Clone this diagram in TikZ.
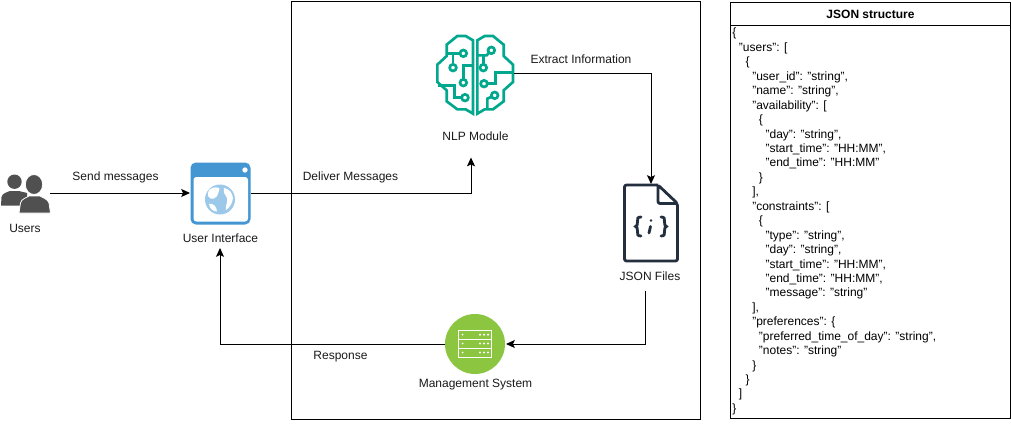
\documentclass[tikz,border=0pt]{standalone}
\usepackage{fontspec}
\setmainfont{Liberation Sans}
\usetikzlibrary{arrows.meta}
\definecolor{brain}{HTML}{01A88D}
\definecolor{uiblue}{HTML}{4496D2}
\definecolor{globeblue}{HTML}{9CC9EA}
\definecolor{filedark}{HTML}{232F3E}
\definecolor{mgreen}{HTML}{8CC540}
\definecolor{usergrey}{HTML}{505050}
\definecolor{labelgrey}{HTML}{1A1A1A}
\newcommand{\jl}[2]{\hspace*{#1\dimexpr 2.5pt\relax}#2\\}
\tikzset{
  x=0.75pt,y=-0.75pt,
  lbl/.style={font=\fontsize{9pt}{10.8pt}\selectfont,text=labelgrey,inner sep=0pt},
  conn/.style={draw=black,line width=0.75pt,-{Stealth[length=6.6pt,width=6pt,inset=1.4pt]}},
  brainline/.style={draw=brain,line width=2pt,line join=miter},
  frame/.style={draw=black,line width=0.75pt,fill=none},
}
\begin{document}
\begin{tikzpicture}
\useasboundingbox (0,0) rectangle (1011,439);
\fill[white] (0,0) rectangle (1011,439);
% frames
\draw[frame] (291,1) rectangle (700,419);
\draw[frame] (730.5,2) rectangle (1010.5,418);
\draw[frame] (730.5,25) -- (1010.5,25);
\node[lbl,font=\fontsize{9pt}{10.8pt}\selectfont\bfseries,text=black] (title) at (870.5,14) {JSON structure};
\node[lbl,anchor=north west,align=left,text=black,font=\fontsize{9pt}{10.83pt}\selectfont] (jsontext) at (732,28) {%
\jl{0}{\{}
\jl{2}{"users": [}
\jl{4}{\{}
\jl{6}{"user\_id": "string",}
\jl{6}{"name": "string",}
\jl{6}{"availability": [}
\jl{8}{\{}
\jl{10}{"day": "string",}
\jl{10}{"start\_time": "HH:MM",}
\jl{10}{"end\_time": "HH:MM"}
\jl{8}{\}}
\jl{6}{],}
\jl{6}{"constraints": [}
\jl{8}{\{}
\jl{10}{"type": "string",}
\jl{10}{"day": "string",}
\jl{10}{"start\_time": "HH:MM",}
\jl{10}{"end\_time": "HH:MM",}
\jl{10}{"message": "string"}
\jl{6}{],}
\jl{6}{"preferences": \{}
\jl{8}{"preferred\_time\_of\_day": "string",}
\jl{8}{"notes": "string"}
\jl{6}{\}}
\jl{4}{\}}
\jl{2}{]}
\jl{0}{\}}%
};
% labels
\node[lbl] (lusers) at (25,228.5) {Users};
\node[lbl] (lsend) at (115.5,177) {Send messages};
\node[lbl] (lui) at (220.5,238.5) {User Interface};
\node[lbl] (ldeliver) at (350.5,177) {Deliver Messages};
\node[lbl] (lnlp) at (475.5,136.5) {NLP Module};
\node[lbl] (lextract) at (581,59) {Extract Information};
\node[lbl] (ljson) at (650,276.5) {JSON Files};
\node[lbl] (lmgmt) at (475.5,384.5) {Management System};
\node[lbl] (lresp) at (340.5,357) {Response};
% users icon
\fill[usergrey] (14.5,181.7) circle (7.2);
\fill[usergrey] (1,205.5) -- (1.5,197) .. controls (2,193) and (8,192) .. (10,191) -- (19,191) .. controls (22,192) and (26,192.5) .. (27,193) -- (27,205.5) -- cycle;
\fill[usergrey,draw=white,line width=0.6pt] (19,213) -- (20.5,203) .. controls (21,199) and (27,197.5) .. (29,196) -- (40,196) .. controls (42,197.5) and (48,199) .. (49,203) -- (50.5,213) -- cycle;
\fill[usergrey,draw=white,line width=0.6pt] (34,184.5) ellipse (8.7 and 10);
% UI icon
\fill[uiblue,rounded corners=4pt] (190.5,162.5) rectangle (250.5,224.5);
\fill[white,rounded corners=2.2pt] (193.5,177) rectangle (248,221.5);
\fill[white] (245,170) circle (2.7);
\fill[globeblue] (220,199.5) circle (15);
\fill[white] (209,190) .. controls (213,186.5) and (218,187) .. (219.5,188.5) .. controls (218,192) and (219,196) .. (214,198.5) .. controls (209,200) and (206,195) .. (209,190) -- cycle;
\fill[white] (224,188) .. controls (229,188.5) and (232.5,193) .. (233,198) .. controls (232.5,204) and (229,208) .. (226,210) .. controls (225,205) and (228,203) .. (227,198) .. controls (225,195) and (223,192) .. (224,188) -- cycle;
\fill[white] (209,204) .. controls (213,202.5) and (217,207) .. (217,211.5) .. controls (213,211.5) and (209.5,208.5) .. (209,204) -- cycle;
% brain icon
\begin{scope}[shift={(434,32)},x=0.25pt,y=-0.25pt]
\draw[brainline] (117,25) -- (95,12) -- (70,12) -- (38,38) -- (38,72) -- (10,98) -- (10,150) -- (38,175) -- (38,208) -- (70,232) -- (95,232) -- (117,245) -- cycle;
\draw[brainline] (130,25) -- (152,12) -- (177,12) -- (209,38) -- (209,72) -- (237,98) -- (237,150) -- (209,175) -- (209,208) -- (177,232) -- (152,232) -- (130,245) -- cycle;
\draw[brainline] (78,64) -- (38,64);
\draw[brainline] (88,64) circle (10);
\draw[brainline] (57,97) -- (57,64);
\draw[brainline] (57,107) circle (10);
\draw[brainline] (88,142) -- (88,100) -- (117,100);
\draw[brainline] (88,152) circle (10);
\draw[brainline] (83,197) -- (62,197) -- (62,160) -- (12,160);
\draw[brainline] (93,197) circle (10);
\draw[brainline] (165,62) -- (158,70) -- (130,70);
\draw[brainline] (172,55) circle (10);
\draw[brainline] (148,97) -- (148,70);
\draw[brainline] (148,107) circle (10);
\draw[brainline] (160,155) -- (185,155) -- (185,122) -- (237,122);
\draw[brainline] (150,155) circle (10);
\draw[brainline] (173,194) -- (160,200) -- (160,232);
\draw[brainline] (182,190) circle (10);
\end{scope}
% JSON file icon
\draw[filedark,line width=2.1pt,line join=round,rounded corners=1.5pt] (658,185) -- (624.5,185) -- (624.5,261) -- (677.5,261) -- (677.5,203.5) -- (658,185) -- (658,203.5) -- (677.5,203.5);
\begin{scope}[filedark,line width=2.1pt,line cap=round]
\draw (641,217) .. controls (637,217) and (637.5,219) .. (637.5,222) .. controls (637.5,225) and (637,226) .. (635.5,226.5) .. controls (637,227) and (637.5,228) .. (637.5,231) .. controls (637.5,234) and (637,236) .. (641,236);
\draw (661,217) .. controls (665,217) and (664.5,219) .. (664.5,222) .. controls (664.5,225) and (665,226) .. (666.5,226.5) .. controls (665,227) and (664.5,228) .. (664.5,231) .. controls (664.5,234) and (665,236) .. (661,236);
\fill (651,220.5) circle (1.4);
\draw (650.5,226.5) -- (649,233);
\end{scope}
% management icon
\fill[mgreen] (475,344) circle (30);
\draw[white,line width=0.75pt] (458.5,330.5) rectangle (491.5,339);
\draw[white,line width=0.75pt] (458.5,339) rectangle (491.5,348);
\draw[white,line width=0.75pt] (458.5,348) rectangle (491.5,357);
\foreach \yy in {334.7,343.5,352.5}{
  \fill[white] (462.5,\yy) circle (1);
  \foreach \xx in {480,484,488}{\fill[white] (\xx,\yy) circle (1.2);}
}
% anchors: the invisible boxes that the connectors run between
\path (25,193) node[inner sep=0pt,minimum width=37.5pt,minimum height=22pt] (users) {};
\path (220.5,193) node[inner sep=0pt,minimum width=45pt,minimum height=46.5pt] (ui) {};
\path (475.5,74) node[inner sep=0pt,minimum width=58pt,minimum height=58pt] (nlp) {};
\path (651,223) node[inner sep=0pt,minimum width=41.5pt,minimum height=57.5pt] (json) {};
\path (475.5,344) node[circle,inner sep=0pt,minimum size=45pt] (mgmt) {};
\coordinate (usersout) at (50,193);
\coordinate (uiin) at (190,193);
\coordinate (uiout) at (251,193);
\coordinate (nlpin) at (471,157.5);
\coordinate (nlpout) at (514,73);
\coordinate (jsonin) at (651,184);
\coordinate (jsonout) at (645,291);
\coordinate (mgmtin) at (506,344);
\coordinate (mgmtout) at (445,344);
\coordinate (uiback) at (220,248);
% connectors
\draw[conn] (usersout) -- (uiin);
\draw[conn] (uiout) -| (nlpin);
\draw[conn] (nlpout) -| (jsonin);
\draw[conn] (jsonout) |- (mgmtin);
\draw[conn] (mgmtout) -| (uiback);
\end{tikzpicture}
\end{document}
